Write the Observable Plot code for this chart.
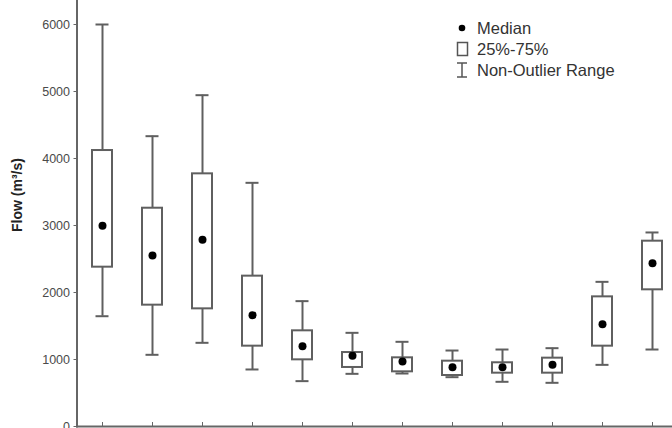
<!DOCTYPE html>
<html>
<head>
<meta charset="utf-8">
<script src="https://cdn.jsdelivr.net/npm/d3@7"></script>
<script src="https://cdn.jsdelivr.net/npm/@observablehq/plot@0.6"></script>
<style>
  html, body { margin: 0; padding: 0; background: #fff; overflow: hidden; }
  #wrap { position: relative; width: 672px; height: 428px; }
  #overlay { position: absolute; left: 0; top: 0; pointer-events: none; }
  #overlay text { font-family: "Liberation Sans", Arial, sans-serif; }
  #overlay .leg { font-size: 16.5px; fill: #333; }
  #overlay .ylab { font-size: 14px; font-weight: bold; fill: #222; }
</style>
</head>
<body>
<div id="wrap"></div>
<script>
// Monthly flow statistics (m³/s)
const months = ["Jan","Feb","Mar","Apr","May","Jun","Jul","Aug","Sep","Oct","Nov","Dec"];
const whiskerLow  = [1646, 1070, 1249,  851,  677,  786,  791,  736,  667,  652,  920, 1149];
const q1          = [2378, 1811, 1756, 1199,  995,  881,  816,  761,  796,  796, 1199, 2040];
const medians     = [2995, 2552, 2786, 1662, 1199, 1055,  970,  885,  885,  920, 1527, 2438];
const q3          = [4119, 3258, 3771, 2244, 1428, 1104, 1025,  975,  951, 1020, 1935, 2766];
const whiskerHigh = [6000, 4333, 4945, 3637, 1871, 1398, 1264, 1134, 1149, 1169, 2159, 2896];
const yTicks = [0, 1000, 2000, 3000, 4000, 5000, 6000];
const yLabel = "Flow (m³/s)";
const legendLabels = ["Median", "25%-75%", "Non-Outlier Range"];

const data = months.map((m, i) => ({
  month: m, lo: whiskerLow[i], q1: q1[i], med: medians[i], q3: q3[i], hi: whiskerHigh[i]
}));

const gray = "#5f5f5f";

const chart = Plot.plot({
  width: 672,
  height: 428,
  marginLeft: 76.5,
  marginRight: 0,
  marginTop: 0,
  marginBottom: 2,
  style: { background: "#fff", fontFamily: "Liberation Sans, Arial, sans-serif" },
  x: { type: "band", domain: months, range: [76.5, 678.3], padding: 0 },
  y: { domain: [0, 6000], range: [426, 24] },
  marks: [
    Plot.ruleX(data, { x: "month", y1: "lo", y2: "q1", stroke: gray, strokeWidth: 2 }),
    Plot.ruleX(data, { x: "month", y1: "q3", y2: "hi", stroke: gray, strokeWidth: 2 }),
    Plot.tickY(data, { x: "month", y: "lo", stroke: gray, strokeWidth: 2, insetLeft: 18.5, insetRight: 18.5 }),
    Plot.tickY(data, { x: "month", y: "hi", stroke: gray, strokeWidth: 2, insetLeft: 18.5, insetRight: 18.5 }),
    Plot.barY(data, { x: "month", y1: "q1", y2: "q3", fill: "white", stroke: gray, strokeWidth: 2, insetLeft: 15, insetRight: 15 }),
    Plot.dot(data, { x: "month", y: "med", r: 4, fill: "black", stroke: "none" }),
    Plot.frame({ anchor: "left", stroke: "#666", strokeWidth: 2 }),
    Plot.frame({ anchor: "bottom", stroke: "#666", strokeWidth: 2 }),
    Plot.axisY({ ticks: yTicks, tickSize: 3, tickPadding: 4, tickFormat: d => String(d), label: null,
                 stroke: "#666", fill: "#4a4a4a", fontSize: 12.5 }),
    Plot.axisX({ tickSize: 4, dy: -4, tickFormat: () => "", label: null, stroke: "#666" })
  ]
});

const wrap = document.getElementById("wrap");
wrap.appendChild(chart);

// Legend and axis title overlay
const ns = "http://www.w3.org/2000/svg";
const ov = document.createElementNS(ns, "svg");
ov.setAttribute("id", "overlay");
ov.setAttribute("width", 672);
ov.setAttribute("height", 428);
function el(tag, attrs) {
  const e = document.createElementNS(ns, tag);
  for (const k in attrs) e.setAttribute(k, attrs[k]);
  ov.appendChild(e);
  return e;
}
const lx = 462, tx = 477, rows = [28, 49, 70];
el("circle", { cx: lx, cy: rows[0], r: 3.3, fill: "black" });
el("rect", { x: lx - 4.5, y: rows[1] - 6.5, width: 10, height: 13, fill: "white", stroke: "#555", "stroke-width": 1.5 });
el("line", { x1: lx, x2: lx, y1: rows[2] - 7, y2: rows[2] + 7, stroke: "#555", "stroke-width": 1.5 });
el("line", { x1: lx - 5, x2: lx + 5, y1: rows[2] - 7, y2: rows[2] - 7, stroke: "#555", "stroke-width": 1.5 });
el("line", { x1: lx - 5, x2: lx + 5, y1: rows[2] + 7, y2: rows[2] + 7, stroke: "#555", "stroke-width": 1.5 });
legendLabels.forEach((t, i) => {
  const e = el("text", { x: tx, y: rows[i] + 5.5, class: "leg" });
  e.textContent = t;
});
const yl = el("text", { class: "ylab", transform: "translate(22,195) rotate(-90)", "text-anchor": "middle" });
yl.textContent = yLabel;
wrap.appendChild(ov);
</script>
</body>
</html>
